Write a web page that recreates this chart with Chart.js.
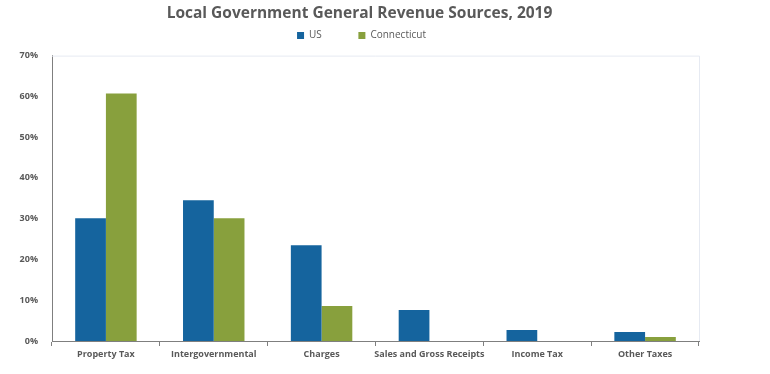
<!DOCTYPE html>
<html>
<head>
<meta charset="utf-8">
<script src="https://cdn.jsdelivr.net/npm/chart.js@4.4.1/dist/chart.umd.min.js"></script>
<style>
  html, body { margin: 0; padding: 0; background: #fff; }
  #wrap { width: 770px; height: 374px; }
</style>
</head>
<body>
<div id="wrap"><canvas id="myChart" width="770" height="374"></canvas></div>
<script>
const categories = ['Property Tax', 'Intergovernmental', 'Charges', 'Sales and Gross Receipts', 'Income Tax', 'Other Taxes'];
const usValues = [30.1, 34.5, 23.5, 7.6, 2.7, 2.2];
const ctValues = [60.7, 30.1, 8.6, 0, 0, 1.0];
const yTicks = [0, 10, 20, 30, 40, 50, 60, 70];

const gray = '#595959';

// faint frame on top and right of plot area
const plotFrame = {
    id: 'plotFrame',
    beforeInit(chart) {
        // fixed legend height so the plot starts where the original does
        const fit = chart.legend.fit;
        chart.legend.fit = function () {
            fit.call(this);
            this.height = 33;
        };
    },
    afterLayout(chart) {
        // title and legend sit a bit right of the plot centre in the original
        chart.titleBlock.left += 10;
        chart.titleBlock.right += 10;
        chart.legend.left += 12;
        chart.legend.right += 12;
    },
    beforeDatasetsDraw(chart) {
        const a = chart.chartArea;
        const c = chart.ctx;
        c.save();
        c.strokeStyle = '#e6eaf2';
        c.lineWidth = 1;
        c.beginPath();
        c.moveTo(a.left, a.top + 0.5);
        c.lineTo(a.right + 0.5, a.top + 0.5);
        c.lineTo(a.right + 0.5, a.bottom);
        c.stroke();
        c.restore();
    }
};

new Chart(document.getElementById('myChart'), {
    type: 'bar',
    data: {
        labels: categories,
        datasets: [
            {
                label: 'US',
                data: usValues,
                backgroundColor: '#15649e',
                barPercentage: 1,
                categoryPercentage: 0.57
            },
            {
                label: 'Connecticut',
                data: ctValues,
                backgroundColor: '#88a03d',
                barPercentage: 1,
                categoryPercentage: 0.57
            }
        ]
    },
    options: {
        responsive: false,
        animation: false,
        layout: { padding: { left: 0, right: 71, top: 0, bottom: 0 } },
        plugins: {
            title: {
                display: true,
                text: 'Local Government General Revenue Sources, 2019',
                color: gray,
                font: { family: 'Open Sans', size: 15.5, weight: 'bold' },
                padding: { top: 4, bottom: 0 }
            },
            legend: {
                display: true,
                position: 'top',
                labels: {
                    color: gray,
                    font: { family: 'Open Sans', size: 10 },
                    boxWidth: 7,
                    boxHeight: 7,
                    padding: 8,
                    generateLabels: chart => {
                        const items = Chart.defaults.plugins.legend.labels.generateLabels(chart);
                        // wide gap after the first entry, as in the original
                        items[0].text += '           ';
                        return items;
                    }
                }
            },
            tooltip: { enabled: false }
        },
        scales: {
            x: {
                grid: {
                    display: true,
                    drawOnChartArea: false,
                    offset: true,
                    tickLength: 5,
                    color: '#7f7f7f'
                },
                border: { display: true, color: '#7f7f7f' },
                ticks: {
                    color: gray,
                    font: { family: 'Open Sans', size: 9, weight: 'bold' },
                    maxRotation: 0,
                    autoSkip: false,
                    padding: 3
                },
                afterFit: s => { s.height = 33; }
            },
            y: {
                min: 0,
                max: 70,
                afterBuildTicks: s => { s.ticks = yTicks.map(v => ({ value: v })); },
                grid: { display: false },
                border: { display: true, color: '#7f7f7f' },
                ticks: {
                    color: gray,
                    font: { family: 'Open Sans', size: 9, weight: 'bold' },
                    padding: 6,
                    callback: v => v + '%'
                },
                afterFit: s => { s.width = 52; }
            }
        }
    },
    plugins: [plotFrame]
});
</script>
</body>
</html>
